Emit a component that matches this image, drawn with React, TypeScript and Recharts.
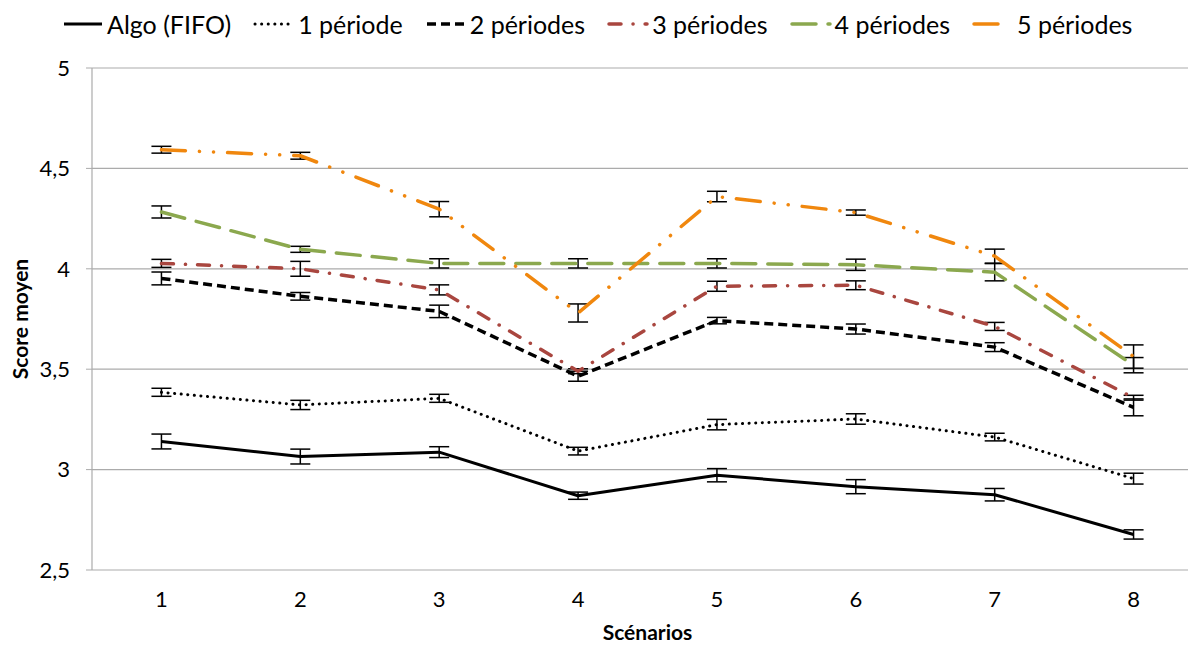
import React from 'react';
import { LineChart, Line, XAxis, YAxis, CartesianGrid, ErrorBar, Legend } from 'recharts';

const scenarios = [1, 2, 3, 4, 5, 6, 7, 8];
const yTicks = [2.5, 3, 3.5, 4, 4.5, 5];
const gridTicks = [0.5, 1.5, 2.5, 3.5, 4.5, 5.5, 6.5, 7.5, 8.5];

const seriesNames = ['Algo (FIFO)', '1 période', '2 périodes', '3 périodes', '4 périodes', '5 périodes'];

const algoFifo = [3.14, 3.065, 3.087, 2.87, 2.972, 2.915, 2.875, 2.677];
const algoFifoErr = [0.037, 0.037, 0.027, 0.018, 0.033, 0.035, 0.031, 0.023];
const periode1 = [3.385, 3.322, 3.355, 3.092, 3.224, 3.252, 3.162, 2.955];
const periode1Err = [0.02, 0.023, 0.02, 0.019, 0.026, 0.026, 0.019, 0.027];
const periode2 = [3.952, 3.863, 3.788, 3.465, 3.742, 3.7, 3.61, 3.31];
const periode2Err = [0.032, 0.019, 0.031, 0.025, 0.016, 0.025, 0.022, 0.042];
const periode3 = [4.027, 4.0, 3.895, 3.49, 3.913, 3.918, 3.713, 3.358];
const periode3Err = [0.02, 0.037, 0.025, 0.012, 0.025, 0.022, 0.02, 0.012];
const periode4 = [4.283, 4.097, 4.027, 4.027, 4.027, 4.02, 3.983, 3.52];
const periode4Err = [0.03, 0.015, 0.023, 0.023, 0.023, 0.028, 0.043, 0.038];
const periode5 = [4.593, 4.563, 4.297, 3.78, 4.36, 4.28, 4.063, 3.563];
const periode5Err = [0.017, 0.017, 0.038, 0.045, 0.026, 0.013, 0.035, 0.058];

const values = [algoFifo, periode1, periode2, periode3, periode4, periode5];
const errors = [algoFifoErr, periode1Err, periode2Err, periode3Err, periode4Err, periode5Err];

const data = scenarios.map((s, i) => {
  const row: any = { scenario: s };
  values.forEach((v, k) => {
    row['s' + k] = v[i];
    row['e' + k] = errors[k][i];
  });
  return row;
});

const lineStyles = [
  { color: '#000000', width: 3, dash: undefined as string | undefined, cap: 'butt' },
  { color: '#000000', width: 3, dash: '0.1 6.5', cap: 'round' },
  { color: '#000000', width: 3.5, dash: '9 5', cap: 'butt' },
  { color: '#A9463F', width: 3.5, dash: '12 12 0.1 12', cap: 'round' },
  { color: '#8BA84E', width: 3.5, dash: '24 12', cap: 'round' },
  { color: '#F0870E', width: 3.5, dash: '24 14 0.1 14 0.1 14', cap: 'round' },
];

const FONT = 'Lato, "Open Sans", sans-serif';
const GRID = '#ABABAB';

const fmt = (v: number) => String(v).replace('.', ',');

const LegendContent = () => (
  <div
    style={{
      display: 'flex',
      alignItems: 'center',
      height: 36,
      paddingLeft: 62,
      fontFamily: FONT,
      fontSize: 25,
      color: '#000',
      whiteSpace: 'nowrap',
    }}
  >
    {seriesNames.map((name, k) => {
      const st = lineStyles[k];
      return (
        <div key={name} style={{ display: 'flex', alignItems: 'center', marginRight: 22 }}>
          <svg width={42} height={10} style={{ marginRight: 3 }}>
            <line
              x1={2}
              y1={5}
              x2={40}
              y2={5}
              stroke={st.color}
              strokeWidth={st.width}
              strokeDasharray={st.dash}
              strokeLinecap={st.cap as any}
            />
          </svg>
          <span>{name}</span>
        </div>
      );
    })}
  </div>
);

export default function App() {
  return (
    <div
      style={{
        position: 'fixed',
        left: 0,
        top: 0,
        width: 1188,
        height: 645,
        overflow: 'hidden',
        background: '#fff',
      }}
    >
      <LineChart
        width={1210}
        height={645}
        data={data}
        margin={{ top: 32, right: 7, bottom: 0, left: 0 }}
        style={{ fontFamily: FONT }}
      >
        <CartesianGrid horizontal vertical={false} stroke={GRID} strokeWidth={1.2} />
        <Legend
          verticalAlign="top"
          align="left"
          content={<LegendContent />}
          wrapperStyle={{ top: 6, left: 0, width: 1188 }}
        />
        <XAxis
          xAxisId="grid"
          dataKey="scenario"
          type="number"
          domain={[0.5, 8.5]}
          ticks={gridTicks}
          tick={false}
          height={0}
          tickSize={6}
          axisLine={{ stroke: GRID, strokeWidth: 1.2 }}
          tickLine={{ stroke: GRID }}
        />
        <XAxis
          dataKey="scenario"
          type="number"
          domain={[0.5, 8.5]}
          ticks={scenarios}
          tickLine={false}
          axisLine={false}
          tickSize={0}
          tickMargin={21}
          height={75}
          tick={{ fill: '#000', fontSize: 22, fontFamily: FONT }}
          label={{
            value: 'Scénarios',
            position: 'insideBottom',
            offset: 5,
            style: { fontWeight: 700, fontSize: 21, fill: '#000', fontFamily: FONT },
          }}
        />
        <YAxis
          type="number"
          domain={[2.5, 5]}
          ticks={yTicks}
          width={92}
          tickFormatter={fmt}
          tickSize={6}
          tickMargin={16}
          axisLine={{ stroke: GRID, strokeWidth: 1.2 }}
          tickLine={{ stroke: GRID }}
          tick={{ fill: '#000', fontSize: 22, fontFamily: FONT }}
          label={{
            value: 'Score moyen',
            angle: -90,
            position: 'insideLeft',
            offset: 21,
            style: { fontWeight: 700, fontSize: 21, fill: '#000', fontFamily: FONT, textAnchor: 'middle' },
          }}
        />
        {values.map((_, k) => {
          const st = lineStyles[k];
          return (
            <Line
              key={k}
              xAxisId={0}
              dataKey={'s' + k}
              name={seriesNames[k]}
              stroke={st.color}
              strokeWidth={st.width}
              strokeDasharray={st.dash}
              strokeLinecap={st.cap as any}
              strokeLinejoin="round"
              dot={false}
              activeDot={false}
              isAnimationActive={false}
            >
              <ErrorBar dataKey={'e' + k} width={10} stroke="#000" strokeWidth={1.5} direction="y" />
            </Line>
          );
        })}
      </LineChart>
    </div>
  );
}
